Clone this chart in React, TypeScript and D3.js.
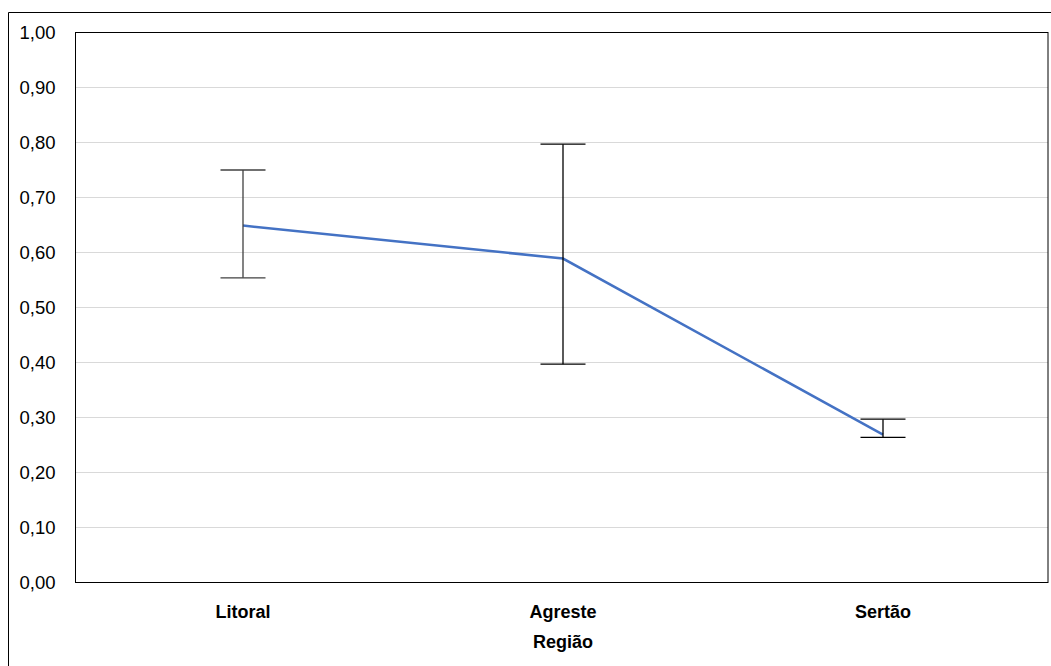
import React from 'react';
import { scaleLinear, scalePoint, line, range } from 'd3';

const regions = ['Litoral', 'Agreste', 'Sertão'];
const means = [0.649, 0.589, 0.269];
const upper = [0.75, 0.797, 0.297];
const lower = [0.554, 0.397, 0.264];
const barColors = ['#404040', '#000000', '#000000'];
const yTicks = range(0, 11).map(i => i / 10);

const width = 1051;
const height = 666;
const frame = { left: 75.5, right: 1048, top: 32.5, bottom: 582.5 };

const App = () => {
  const x = scalePoint<string>().domain(regions).range([243, 883]);
  const y = scaleLinear().domain([0, 1]).range([frame.bottom, frame.top]);

  const pts = regions.map((r, i) => [x(r) as number, y(means[i])] as [number, number]);
  const path = line()(pts) || '';
  const font = '"Liberation Sans", Arial, sans-serif';

  return (
    <svg width={width} height={height} style={{ position: 'absolute', left: 0, top: 0, background: '#fff' }}>
      <rect x={0} y={0} width={width} height={height} fill="#fff" />
      {/* outer chart border */}
      <line x1={8.5} y1={12.5} x2={width} y2={12.5} stroke="#000" />
      <line x1={8.5} y1={12.5} x2={8.5} y2={height} stroke="#000" />

      {yTicks.map(t => (
        <g key={t}>
          {t > 0 && t < 1 && (
            <line x1={frame.left} x2={frame.right} y1={y(t)} y2={y(t)} stroke="#d9d9d9" />
          )}
          <text x={55.5} y={y(t)} dy="0.36em" textAnchor="end" fontSize={18.5} fontFamily={font} fill="#000">
            {t.toFixed(2).replace('.', ',')}
          </text>
        </g>
      ))}

      <rect x={frame.left} y={frame.top} width={frame.right - frame.left} height={frame.bottom - frame.top}
        fill="none" stroke="#000" />

      <path d={path} fill="none" stroke="#4472C4" strokeWidth={2.5} />

      {regions.map((r, i) => {
        const cx = x(r) as number;
        return (
          <g key={r} stroke={barColors[i]} strokeWidth={1.3}>
            <line x1={cx} x2={cx} y1={y(upper[i])} y2={y(lower[i])} />
            <line x1={cx - 22.5} x2={cx + 22.5} y1={y(upper[i])} y2={y(upper[i])} />
            <line x1={cx - 22.5} x2={cx + 22.5} y1={y(lower[i])} y2={y(lower[i])} />
          </g>
        );
      })}

      {regions.map(r => (
        <text key={r} x={x(r)} y={618} textAnchor="middle" fontSize={18} fontWeight="bold" fontFamily={font}>
          {r}
        </text>
      ))}
      <text x={x('Agreste')} y={648} textAnchor="middle" fontSize={18} fontWeight="bold" fontFamily={font}>
        Região
      </text>
    </svg>
  );
};

export default App;
